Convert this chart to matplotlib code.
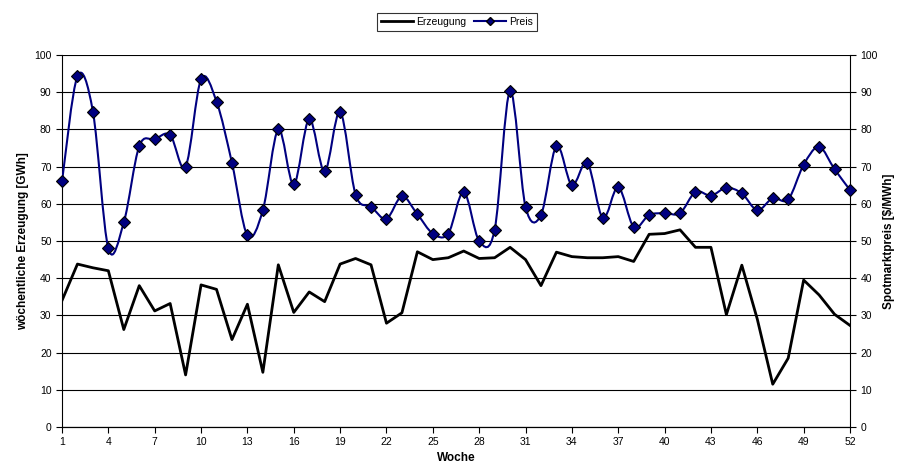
import numpy as np
import matplotlib
matplotlib.use('Agg')
import matplotlib.pyplot as plt
from matplotlib.path import Path
from matplotlib.patches import PathPatch
from matplotlib.lines import Line2D

plt.rcParams.update({
    'font.family': ['Liberation Sans', 'DejaVu Sans'],
    'font.size': 8,
})

# Daten
wochen = list(range(1, 53))
erzeugung = [34, 43.8, 42.8, 42, 26.2, 38, 31.2, 33.2, 14, 38.2,
             37, 23.5, 33, 14.7, 43.6, 30.8, 36.3, 33.7, 43.8, 45.3,
             43.6, 27.9, 30.7, 47.1, 45, 45.5, 47.3, 45.3, 45.5, 48.3,
             45, 38, 47, 45.8, 45.5, 45.5, 45.8, 44.5, 51.8, 52,
             53, 48.3, 48.3, 30.2, 43.5, 29, 11.5, 18.5, 39.5, 35.5,
             30.3, 27.3]
preis = [66, 94.3, 84.8, 48, 55, 75.5, 77.3, 78.5, 70, 93.5,
         87.5, 71, 51.5, 58.3, 80, 65.2, 82.8, 68.7, 84.7, 62.5,
         59.2, 56, 62, 57.2, 52, 52, 63.2, 50, 53, 90.3,
         59.2, 57, 75.5, 65, 71, 56.2, 64.5, 53.8, 57, 57.5,
         57.5, 63.2, 62.2, 64.3, 62.8, 58.3, 61.5, 61.2, 70.5, 75.3,
         69.3, 63.7]
x_ticks = list(range(1, 53, 3))
y_ticks = list(range(0, 101, 10))

NAVY = '#000080'

fig = plt.figure(figsize=(9.01, 4.75), dpi=100)
ax = fig.add_axes([62/901, 1 - 427/475, (850-62)/901, (427-55)/475])
ax2 = ax.twinx()

# Gitterlinien
for y in y_ticks:
    ax.axhline(y, color='black', lw=0.8, zorder=1)

ax.plot(wochen, erzeugung, color='black', lw=2, zorder=3)

# Geglättete Linie (wie Excel), Bezier über die Datenpunkte
x = np.array(wochen, dtype=float)
y = np.array(preis, dtype=float)
verts = [(x[0], y[0])]
codes = [Path.MOVETO]
n = len(x)
for i in range(n - 1):
    p0 = (x[i-1], y[i-1]) if i > 0 else (x[i], y[i])
    p3 = (x[i+2], y[i+2]) if i + 2 < n else (x[i+1], y[i+1])
    c1 = (x[i] + (x[i+1] - p0[0]) / 6, y[i] + (y[i+1] - p0[1]) / 6)
    c2 = (x[i+1] - (p3[0] - x[i]) / 6, y[i+1] - (p3[1] - y[i]) / 6)
    verts += [c1, c2, (x[i+1], y[i+1])]
    codes += [Path.CURVE4] * 3
ax2.add_patch(PathPatch(Path(verts, codes), fill=False, edgecolor=NAVY, lw=1.5, zorder=4))
ax2.plot(wochen, preis, ls='none', marker='D', ms=6.5, mfc=NAVY, mec='black', mew=0.8,
         zorder=5, clip_on=False)

for a in (ax, ax2):
    a.set_ylim(0, 100)
    a.set_yticks(y_ticks)
    a.set_xlim(1, 52)
    a.tick_params(direction='out', length=4, width=0.8, labelsize=7.5, colors='black')
    a.spines['top'].set_visible(False)
ax2.spines['left'].set_visible(False)
ax.spines['right'].set_visible(False)
ax.set_xticks(x_ticks)

ax.set_xlabel('Woche', fontweight='bold', fontsize=8.5, labelpad=3)
ax.set_ylabel('wöchentliche Erzeugung [GWh]', fontweight='bold', fontsize=8.5)
ax2.set_ylabel('Spotmarktpreis [$/MWh]', fontweight='bold', fontsize=8.5)

handles = [Line2D([], [], color='black', lw=2),
           Line2D([], [], color=NAVY, lw=1.5, marker='D', ms=4, mfc=NAVY, mec='black')]
leg = fig.legend(handles, ['Erzeugung', 'Preis'], loc='center', bbox_to_anchor=(457/901, 1 - 22/475),
                 ncol=2, frameon=True, fancybox=False, fontsize=7.5, handlelength=3,
                 columnspacing=0.8, handletextpad=0.3, borderpad=0.4)
leg.get_frame().set_edgecolor('black')
leg.get_frame().set_linewidth(0.8)

fig.savefig('out.png', dpi=100)
